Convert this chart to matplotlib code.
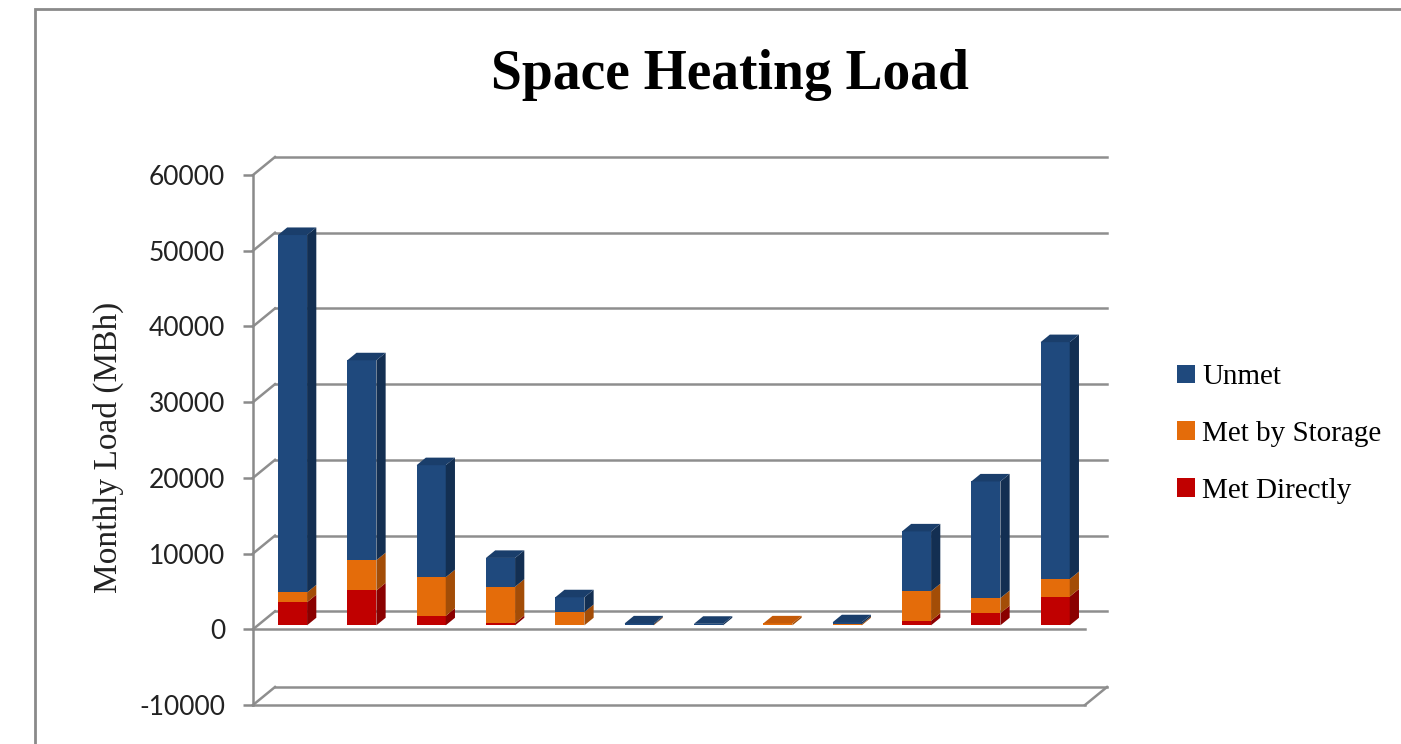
import matplotlib
matplotlib.use("Agg")
import matplotlib.pyplot as plt
from matplotlib.patches import Polygon, Patch, Rectangle
import numpy as np

# Monthly space heating load (MBh), Jan..Dec
months = ["Jan", "Feb", "Mar", "Apr", "May", "Jun",
          "Jul", "Aug", "Sep", "Oct", "Nov", "Dec"]
met_directly = [3050, 4600, 1250, 300, 0, 0, 0, 0, 0, 600, 1600, 3800]
met_by_storage = [1300, 4000, 5100, 4800, 1750, 100, 0, 250, 150, 3900, 2000, 2300]
unmet = [47200, 26400, 14800, 3800, 1950, 150, 200, 0, 250, 7900, 15400, 31300]
yticks = [-10000, 0, 10000, 20000, 30000, 40000, 50000, 60000]

series = [
    ("Met Directly", met_directly, "#C00000", "#8A0000", "#A00000"),
    ("Met by Storage", met_by_storage, "#E46C0A", "#A34D07", "#C45A08"),
    ("Unmet", unmet, "#1F497D", "#132F52", "#1A3E6B"),
]

W, H, DPI = 1401, 744, 100
fig = plt.figure(figsize=(W / DPI, H / DPI), dpi=DPI)
fig.patch.set_facecolor("white")

# outer chart frame (partly cut off in the original)
fig.add_artist(Rectangle((35 / W, -0.05), 1.1, (H - 9) / H + 0.05,
                         transform=fig.transFigure, fill=False,
                         edgecolor="#8a8a8a", lw=2.0))

ax = fig.add_axes([253 / W, 39 / H, 832 / W, 530 / H])
ax.set_xlim(-0.5, 11.5)
ax.set_ylim(-10000, 60000)
ax.patch.set_alpha(0)
for s in ["top", "right", "bottom"]:
    ax.spines[s].set_visible(False)
ax.spines["left"].set_color("#8a8a8a")
ax.spines["left"].set_linewidth(1.8)
ax.set_xticks([])
ax.set_yticks(yticks)
ax.set_yticklabels([str(v) for v in yticks], family="Lato", fontsize=19,
                   color="#222222")
ax.tick_params(axis="y", length=7, width=1.8, color="#8a8a8a", pad=13)

# depth of the wall, in pixels -> data units
ppx = ax.bbox.width / 12.0
ppy = ax.bbox.height / 70000.0
wall_dx, wall_dy = 22 / ppx, 18 / ppy

grid_kw = dict(color="#8e8e8e", lw=1.8, clip_on=False, zorder=1)
x0, x1 = -0.5, 11.5
for v in yticks:
    # back wall line and left diagonal
    ax.plot([x0 + wall_dx, x1 + wall_dx], [v + wall_dy, v + wall_dy], **grid_kw)
    ax.plot([x0, x0 + wall_dx], [v, v + wall_dy], **grid_kw)
    if v <= 0:
        ax.plot([x0, x1], [v, v], **grid_kw)
    if v == -10000:
        ax.plot([x1, x1 + wall_dx], [v, v + wall_dy], **grid_kw)

# 3D-looking stacked columns
bw = 0.42
f0, fd = 0.22, 0.42
bdx, bdy = fd * wall_dx, fd * wall_dy
sx, sy = f0 * wall_dx, f0 * wall_dy
xs = np.arange(len(months))
bottom = np.zeros(len(months))
totals = np.sum([s[1] for s in series], axis=0)
for name, vals, c_front, c_side, c_top in series:
    vals = np.array(vals, dtype=float)
    ax.bar(xs + sx, vals, bw, bottom=bottom + sy, color=c_front,
           zorder=3, linewidth=0)
    for i in range(len(xs)):
        if vals[i] <= 0:
            continue
        xr = xs[i] + sx + bw / 2
        xl = xs[i] + sx - bw / 2
        b = bottom[i] + sy
        t = bottom[i] + vals[i] + sy
        side = [(xr, b), (xr + bdx, b + bdy), (xr + bdx, t + bdy), (xr, t)]
        ax.add_patch(Polygon(side, closed=True, facecolor=c_side,
                             edgecolor="none", zorder=3))
        if np.isclose(bottom[i] + vals[i], totals[i]):
            top = [(xl, t), (xr, t), (xr + bdx, t + bdy), (xl + bdx, t + bdy)]
            ax.add_patch(Polygon(top, closed=True, facecolor=c_top,
                                 edgecolor="none", zorder=4))
    bottom = bottom + vals

fig.text(108 / W, 1 - 447 / H, "Monthly Load (MBh)", family="Liberation Serif",
         fontsize=24, rotation=90, ha="center", va="center", color="#222222")

fig.text(730 / W, 1 - 75 / H, "Space Heating Load", family="Liberation Serif",
         fontweight="bold", fontsize=40, ha="center", va="center")

handles = [Patch(facecolor=s[2]) for s in reversed(series)]
labels = [s[0] for s in reversed(series)]
fig.legend(handles, labels, loc="center left",
           bbox_to_anchor=(1151 / W, 1 - 434 / H), frameon=False,
           prop={"family": "Liberation Serif", "size": 21},
           handlelength=0.6, handleheight=0.6, handletextpad=0.25,
           labelspacing=1.05)

fig.savefig("out.png", dpi=DPI)
